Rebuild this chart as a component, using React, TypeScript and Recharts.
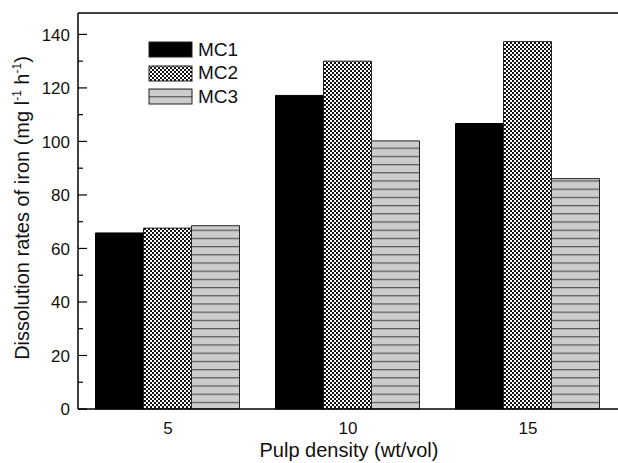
import { BarChart, Bar, XAxis, YAxis, ReferenceLine, Label } from 'recharts';

const categories = ['5', '10', '15'];
const mc1 = [65.8, 117.2, 106.7];
const mc2 = [67.6, 130.0, 137.3];
const mc3 = [68.5, 100.2, 86.1];
const yTicks = [0, 10, 20, 30, 40, 50, 60, 70, 80, 90, 100, 110, 120, 130, 140];

const data = categories.map((c, i) => ({ density: c, MC1: mc1[i], MC2: mc2[i], MC3: mc3[i] }));

const FONT = '"Liberation Sans", Arial, sans-serif';

const fills: Record<string, string> = {
  MC1: '#000000',
  MC2: 'url(#checker)',
  MC3: 'url(#hlines)',
};

const YTick = (props: any) => {
  const { x, y, payload } = props;
  const major = payload.value % 20 === 0;
  return (
    <g>
      <line x1={x} x2={x + (major ? 9 : 5)} y1={y} y2={y} stroke="#000" strokeWidth={1.2} />
      {major && (
        <text x={x - 8} y={y} dy="0.36em" textAnchor="end" fontSize={17} fontFamily={FONT} fill="#111">
          {payload.value}
        </text>
      )}
    </g>
  );
};

const XTick = (props: any) => {
  const { x, y, payload } = props;
  return (
    <text x={x} y={y + 25} textAnchor="middle" fontSize={17} fontFamily={FONT} fill="#111">
      {payload.value}
    </text>
  );
};

const YTitle = () => (
  <text
    x={0}
    y={0}
    transform="translate(29, 208) rotate(-90)"
    textAnchor="middle"
    fontSize={20}
    fontFamily={FONT}
    fill="#111"
  >
    Dissolution rates of iron (mg l
    <tspan dy={-8} fontSize={12}>-1</tspan>
    <tspan dy={8}> h</tspan>
    <tspan dy={-8} fontSize={12}>-1</tspan>
    <tspan dy={8}>)</tspan>
  </text>
);

const LegendBox = () => (
  <div style={{ position: 'absolute', left: 148, top: 38, fontFamily: FONT, fontSize: 19, color: '#111' }}>
    {['MC1', 'MC2', 'MC3'].map((k) => (
      <div key={k} style={{ display: 'flex', alignItems: 'center', height: 23.5 }}>
        <svg width={46} height={17} style={{ marginRight: 4 }}>
          <rect x={1} y={1} width={43} height={15} fill={fills[k]} stroke="#222" strokeWidth={1} />
        </svg>
        <span>{k}</span>
      </div>
    ))}
  </div>
);

export default function App() {
  return (
    <div style={{ position: 'absolute', left: 0, top: 0, width: 618, height: 463, background: '#fff', overflow: 'hidden' }}>
      <BarChart
        width={618}
        height={463}
        data={data}
        margin={{ top: 13, right: 0, bottom: 0, left: 0 }}
        barCategoryGap={17.5}
        barGap={0}
      >
        <defs>
          <pattern id="checker" patternUnits="userSpaceOnUse" width={4} height={4}>
            <rect width={4} height={4} fill="#fff" />
            <rect x={0} y={0} width={2} height={2} fill="#111" />
            <rect x={2} y={2} width={2} height={2} fill="#111" />
          </pattern>
          <pattern id="hlines" patternUnits="userSpaceOnUse" width={8} height={8.2}>
            <rect width={8} height={8.2} fill="#cccccc" />
            <rect x={0} y={0} width={8} height={1.2} fill="#555" />
          </pattern>
        </defs>
        <XAxis
          dataKey="density"
          height={54}
          axisLine={{ stroke: '#000', strokeWidth: 1.5 }}
          tickLine={false}
          tickSize={0}
          tickMargin={0}
          tick={<XTick />}
        >
          <Label
            content={() => (
              <text x={349} y={457} textAnchor="middle" fontSize={20} fontFamily={FONT} fill="#111">
                Pulp density (wt/vol)
              </text>
            )}
          />
        </XAxis>
        <YAxis
          domain={[0, 148]}
          ticks={yTicks}
          width={78}
          interval={0}
          axisLine={{ stroke: '#000', strokeWidth: 1.5 }}
          tickLine={false}
          tickSize={0}
          tickMargin={0}
          tick={<YTick />}
        >
          <Label content={() => <YTitle />} />
        </YAxis>
        <ReferenceLine y={148} stroke="#000" strokeWidth={1.5} />
        <Bar dataKey="MC1" fill={fills.MC1} stroke="#000" strokeWidth={1} isAnimationActive={false} />
        <Bar dataKey="MC2" fill={fills.MC2} stroke="#222" strokeWidth={1} isAnimationActive={false} />
        <Bar dataKey="MC3" fill={fills.MC3} stroke="#222" strokeWidth={1} isAnimationActive={false} />
      </BarChart>
      <LegendBox />
    </div>
  );
}
